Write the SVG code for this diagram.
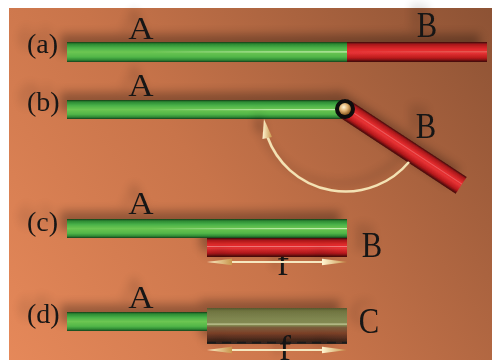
<svg xmlns="http://www.w3.org/2000/svg" width="492" height="360" viewBox="0 0 492 360">
  <defs>
    <linearGradient id="bg" x1="0" y1="360" x2="492" y2="0" gradientUnits="userSpaceOnUse">
      <stop offset="0" stop-color="#e6895a"/>
      <stop offset="0.45" stop-color="#c8744a"/>
      <stop offset="1" stop-color="#8c5234"/>
    </linearGradient>
    <linearGradient id="green" x1="0" y1="0" x2="0" y2="1">
      <stop offset="0" stop-color="#163c18"/>
      <stop offset="0.1" stop-color="#2b8a33"/>
      <stop offset="0.3" stop-color="#4cb34a"/>
      <stop offset="0.5" stop-color="#6cc652"/>
      <stop offset="0.75" stop-color="#52b648"/>
      <stop offset="0.9" stop-color="#2f8a35"/>
      <stop offset="1" stop-color="#173e1a"/>
    </linearGradient>
    <linearGradient id="red" x1="0" y1="0" x2="0" y2="1">
      <stop offset="0" stop-color="#3a0a0a"/>
      <stop offset="0.12" stop-color="#a8181a"/>
      <stop offset="0.35" stop-color="#e02a2c"/>
      <stop offset="0.55" stop-color="#e63234"/>
      <stop offset="0.8" stop-color="#b8191c"/>
      <stop offset="1" stop-color="#3c0808"/>
    </linearGradient>
    <linearGradient id="merged" x1="0" y1="0" x2="0" y2="1">
      <stop offset="0" stop-color="#55552c"/>
      <stop offset="0.08" stop-color="#6f7440"/>
      <stop offset="0.3" stop-color="#7f8650"/>
      <stop offset="0.48" stop-color="#858a52"/>
      <stop offset="0.54" stop-color="#7a5c3a"/>
      <stop offset="0.7" stop-color="#7c4028"/>
      <stop offset="0.88" stop-color="#4a2a1e"/>
      <stop offset="1" stop-color="#2e2420"/>
    </linearGradient>
    <linearGradient id="shine" x1="0" y1="0" x2="1" y2="0">
      <stop offset="0" stop-color="#ffffff" stop-opacity="0"/>
      <stop offset="0.6" stop-color="#eaffd8" stop-opacity="0.55"/>
      <stop offset="1" stop-color="#eaffd8" stop-opacity="0.7"/>
    </linearGradient>
    <linearGradient id="tip" x1="0" y1="0" x2="1" y2="0">
      <stop offset="0" stop-color="#fff4d0"/>
      <stop offset="1" stop-color="#c8964c"/>
    </linearGradient>
    <radialGradient id="ball" cx="0.4" cy="0.35" r="0.65">
      <stop offset="0" stop-color="#fff6d8"/>
      <stop offset="0.5" stop-color="#e0b070"/>
      <stop offset="1" stop-color="#8a5a20"/>
    </radialGradient>
    <filter id="shadow" x="-30%" y="-80%" width="160%" height="260%">
      <feGaussianBlur in="SourceAlpha" stdDeviation="5"/>
      <feOffset dx="-7" dy="-8"/>
      <feComponentTransfer><feFuncA type="linear" slope="0.3"/></feComponentTransfer>
      <feMerge><feMergeNode/><feMergeNode in="SourceGraphic"/></feMerge>
    </filter>
  </defs>
  <style>
    .lbl { font-family: "Liberation Serif", "Times New Roman", serif; font-size: 28px; fill: #141414; }
    .let { font-family: "Liberation Serif", "Times New Roman", serif; font-size: 32px; fill: #141414; text-anchor: middle; }
    .big { font-family: "Liberation Serif", "Times New Roman", serif; font-size: 36px; fill: #141414; text-anchor: middle; }
    .g { fill: url(#green); }
    .r { fill: url(#red); }
    .hl { fill: url(#shine); }
    .arc { fill: none; stroke: #f3e2b4; stroke-width: 2.5; }
    .shaft { stroke: #f6e8c0; stroke-width: 2; }
    .head { fill: url(#tip); }
  </style>

  <!-- frame and backdrop -->
  <rect x="0" y="0" width="492" height="360" fill="#ffffff"/>
  <rect x="9" y="8" width="483" height="352" fill="url(#bg)"/>

  <!-- row (a): straight rod A + B -->
  <g id="row-a" filter="url(#shadow)">
    <text class="lbl" x="27" y="53">(a)</text>
    <text class="let" x="141" y="39" transform="translate(141 0) scale(1.1 1) translate(-141 0)">A</text>
    <text class="big" x="427" y="37" transform="translate(427 0) scale(0.85 1) translate(-427 0)">B</text>
    <g id="a-rodA"><rect class="g" x="67" y="42" width="280" height="20"/><rect class="hl" x="150" y="51.3" width="197" height="1.2"/></g>
    <g id="a-rodB"><rect class="r" x="347" y="42" width="140" height="20"/><rect class="hl" x="347" y="51.3" width="140" height="1" opacity="0.4"/></g>
  </g>

  <!-- row (b): hinged rod, B swung about the joint -->
  <g id="row-b" filter="url(#shadow)">
    <text class="lbl" x="27" y="111">(b)</text>
    <text class="let" x="141" y="96" transform="translate(141 0) scale(1.1 1) translate(-141 0)">A</text>
    <text class="big" x="426" y="138" transform="translate(426 0) scale(0.85 1) translate(-426 0)">B</text>
    <g id="b-rodA"><rect class="g" x="67" y="100" width="278" height="19"/><rect class="hl" x="150" y="109" width="190" height="1.2"/></g>
    <g id="b-rodB" transform="translate(345 109) rotate(33.3)">
      <rect class="r" x="0" y="-10" width="139" height="20"/>
      <rect x="0" y="-2" width="139" height="1" fill="#ffb0b0" opacity="0.35"/>
    </g>
    <g id="b-joint">
      <circle cx="345" cy="109" r="10" fill="#0a0a0a"/>
      <circle cx="345" cy="109" r="6" fill="url(#ball)"/>
    </g>
  </g>

  <!-- row (c): B folded back under A -->
  <g id="row-c" filter="url(#shadow)">
    <text class="lbl" x="27" y="231">(c)</text>
    <text class="let" x="141" y="214" transform="translate(141 0) scale(1.1 1) translate(-141 0)">A</text>
    <text class="big" x="372" y="257" transform="translate(372 0) scale(0.85 1) translate(-372 0)">B</text>
    <text class="big" x="283" y="275">f</text>
    <g id="c-rodA"><rect class="g" x="67" y="219" width="280" height="19"/><rect class="hl" x="150" y="228" width="197" height="1.2"/></g>
    <g id="c-rodB"><rect class="r" x="207" y="238" width="140" height="19"/><rect x="207" y="246" width="140" height="1" fill="#ffc0c0" opacity="0.5"/></g>
  </g>

  <!-- row (d): overlap merged into C -->
  <g id="row-d" filter="url(#shadow)">
    <text class="lbl" x="27" y="323">(d)</text>
    <text class="let" x="141" y="308" transform="translate(141 0) scale(1.1 1) translate(-141 0)">A</text>
    <text class="big" x="369" y="333" transform="translate(369 0) scale(0.85 1) translate(-369 0)">C</text>
    <g id="d-rodA"><rect class="g" x="67" y="312" width="140" height="19"/></g>
    <g id="d-rodC">
      <rect x="207" y="308" width="140" height="36" fill="url(#merged)"/>
      <rect x="207" y="323.5" width="140" height="1.2" fill="#dfe6b8" opacity="0.7"/>
      <line x1="207" y1="342.5" x2="347" y2="342.5" stroke="#1e1c1e" stroke-width="1.5" stroke-dasharray="9 6"/>
    </g>
    <text class="big" x="285" y="360">f</text>
  </g>

  <!-- connectors: rotation arc and fold lengths -->
  <g id="connectors" filter="url(#shadow)">
    <path class="arc" d="M409,162 A83,83 0 0 1 267.5,137"/>
    <polygon class="head" points="264,119 272,137 262.5,139"/>
    <line class="shaft" x1="225" y1="262" x2="330" y2="262"/>
    <polygon class="head" points="207,262 232,258.8 232,265.2"/>
    <polygon class="head" points="347,262 322,258.8 322,265.2"/>
    <line class="shaft" x1="225" y1="350" x2="330" y2="350"/>
    <polygon class="head" points="207,350 232,346.8 232,353.2"/>
    <polygon class="head" points="347,350 322,346.8 322,353.2"/>
  </g>
</svg>
